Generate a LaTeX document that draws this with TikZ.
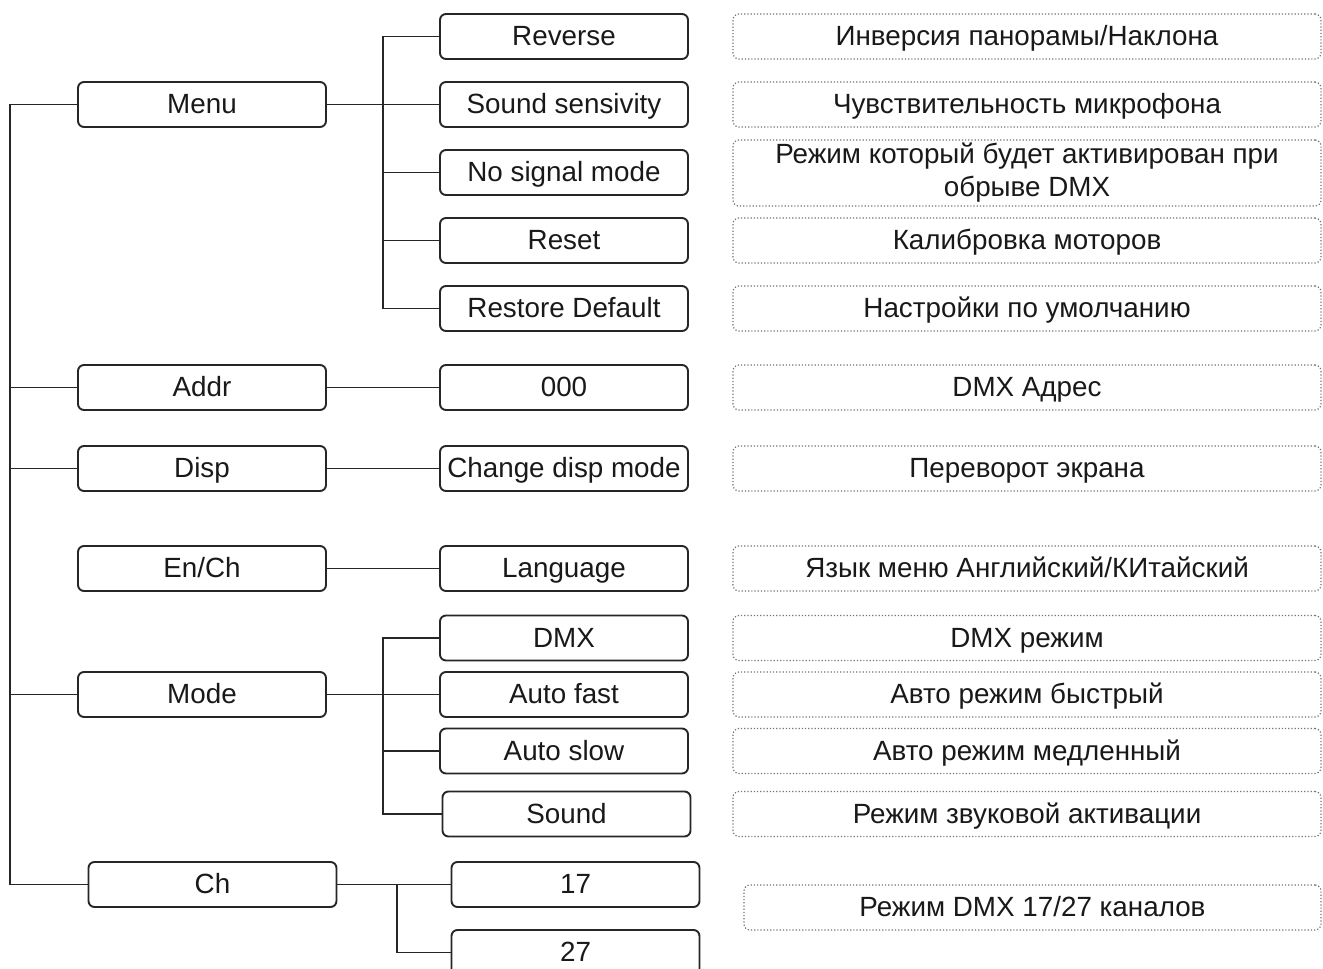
\documentclass[tikz,border=0pt]{standalone}
\usepackage{fontspec}
\setmainfont{Liberation Sans}
\newcommand\dfont{\fontsize{27.8}{31}\selectfont}
\newcommand\dfontii{\fontsize{27.8}{33}\selectfont}
\begin{document}
\begin{tikzpicture}[x=1pt,y=-1pt,
  lbox/.style={draw=black!85, line width=1.9pt, rounded corners=6pt,
    minimum width=248pt, minimum height=45pt, inner sep=0pt,
    text height=20pt, text depth=1.4pt,
    font=\dfont, text=black!90},
  rbox/.style={draw=black!55, dotted, line width=1.2pt, rounded corners=6pt,
    minimum width=588pt, minimum height=45pt, inner sep=0pt,
    font=\dfont, text=black!90, align=center},
  onel/.style={text height=20pt, text depth=1.4pt},
  conn/.style={draw=black!85, line width=1.9pt}]
\clip (0,0) rectangle (1323,969);
\fill[white] (0,0) rectangle (1323,969);

% level 1
\node[lbox] (menu) at (202,104.5) {Menu};
\node[lbox] (addr) at (202,387.5) {Addr};
\node[lbox] (disp) at (202,468.5) {Disp};
\node[lbox] (ench) at (202,568.5) {En/Ch};
\node[lbox] (mode) at (202,694.5) {Mode};
\node[lbox] (ch)   at (212.5,884.5) {Ch};

% level 2
\node[lbox] (rev)   at (564,36.5)  {Reverse};
\node[lbox] (sens)  at (564,104.5) {Sound sensivity};
\node[lbox] (nsm)   at (564,172.5) {No signal mode};
\node[lbox] (reset) at (564,240.5) {Reset};
\node[lbox] (rdef)  at (564,308.5) {Restore Default};
\node[lbox] (zero)  at (564,387.5) {000};
\node[lbox] (cdm)   at (564,468.5) {Change disp mode};
\node[lbox] (lang)  at (564,568.5) {Language};
\node[lbox] (dmx)   at (564,638)   {DMX};
\node[lbox] (afast) at (564,694.5) {Auto fast};
\node[lbox] (aslow) at (564,751)   {Auto slow};
\node[lbox] (snd)   at (566.5,814) {Sound};
\node[lbox] (c17)   at (575.5,884.5) {17};
\node[lbox] (c27)   at (575.5,952.5) {27};

% descriptions
\node[rbox,onel] (d1)  at (1027,36.5)  {Инверсия панорамы/Наклона};
\node[rbox,onel] (d2)  at (1027,104.5) {Чувствительность микрофона};
\node[rbox, minimum height=66pt, font=\dfontii] (d3) at (1027,173) {Режим который будет активирован при\\обрыве DMX};
\node[rbox,onel] (d4)  at (1027,240.5) {Калибровка моторов};
\node[rbox,onel] (d5)  at (1027,308.5) {Настройки по умолчанию};
\node[rbox,onel] (d6)  at (1027,387.5) {DMX Адрес};
\node[rbox,onel] (d7)  at (1027,468.5) {Переворот экрана};
\node[rbox,onel] (d8)  at (1027,568.5) {Язык меню Английский/КИтайский};
\node[rbox,onel] (d9)  at (1027,638)   {DMX режим};
\node[rbox,onel] (d10) at (1027,694.5) {Авто режим быстрый};
\node[rbox,onel] (d11) at (1027,751)   {Авто режим медленный};
\node[rbox,onel] (d12) at (1027,814)   {Режим звуковой активации};
\node[rbox,onel, minimum width=577pt] (d13) at (1032.5,907.5) {Режим DMX 17/27 каналов};

% junction coordinates
\coordinate (mainx) at (10,0);
\coordinate (mj) at (383,0);
\coordinate (oj) at (383,0);
\coordinate (cj) at (397,0);

% main trunk
\draw[conn] (menu.west) -- (menu.west -| mainx) -- (ch.west -| mainx) -- (ch.west);
\draw[conn] (addr.west) -- (addr.west -| mainx);
\draw[conn] (disp.west) -- (disp.west -| mainx);
\draw[conn] (mode.west) -- (mode.west -| mainx);

% menu branch
\draw[conn] (menu.east) -- (sens.west);
\draw[conn] (rev.west) -- (rev.west -| mj) -- (rdef.west -| mj) -- (rdef.west);
\draw[conn] (nsm.west) -- (nsm.west -| mj);
\draw[conn] (reset.west) -- (reset.west -| mj);

% single branches
\draw[conn] (addr.east) -- (zero.west);
\draw[conn] (disp.east) -- (cdm.west);
\draw[conn] (ench.east) -- (lang.west);

% mode branch
\draw[conn] (mode.east) -- (afast.west);
\draw[conn] (dmx.west) -- (dmx.west -| oj) -- (snd.west -| oj) -- (snd.west);
\draw[conn] (aslow.west) -- (aslow.west -| oj);

% ch branch
\draw[conn] (ch.east) -- (c17.west);
\draw[conn] (c17.west -| cj) -- (c27.west -| cj) -- (c27.west);
\end{tikzpicture}
\end{document}
